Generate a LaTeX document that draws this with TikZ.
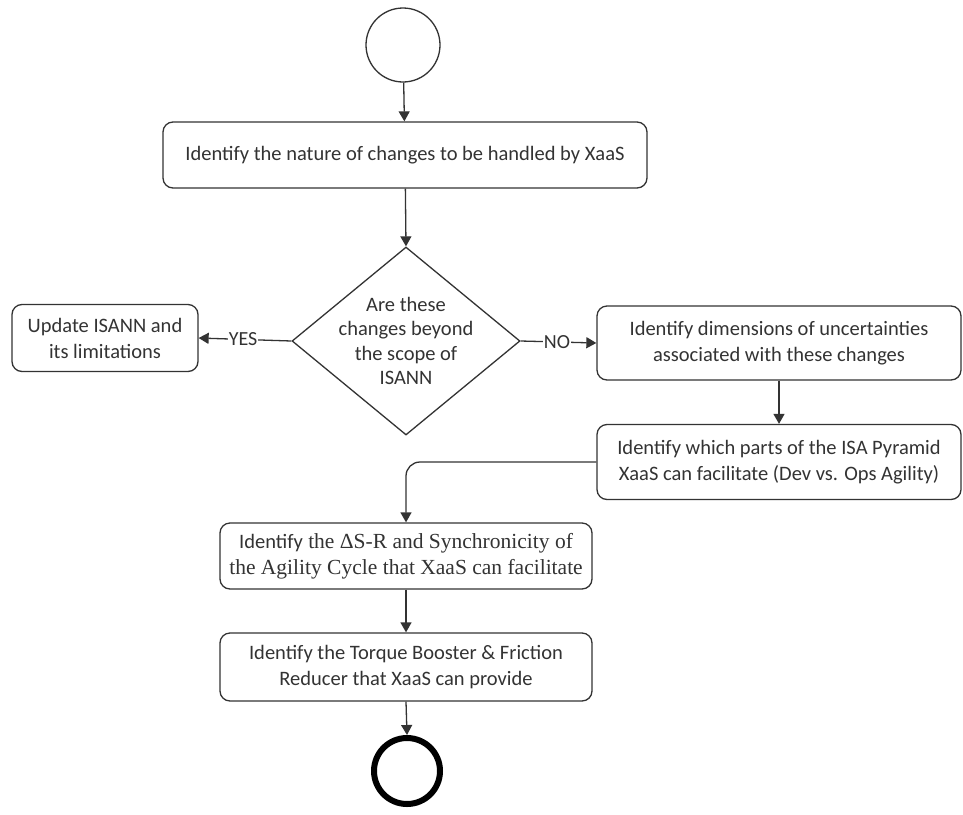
\documentclass[tikz,border=0pt]{standalone}
\usepackage{fontspec}
\setmainfont{Carlito}
\newfontfamily\serifbox{Liberation Serif}
\usetikzlibrary{shapes.geometric,arrows.meta}
\definecolor{ink}{HTML}{333333}
\tikzset{
  flow/.style={draw=ink, line width=1.3pt},
  stepbox/.style={flow, rectangle, rounded corners=10pt, align=center, inner sep=0pt,
    font=\fontsize{20.5}{26}\selectfont, text=ink},
  arr/.style={flow, -{Triangle[length=10pt,width=11pt]}},
  lbl/.style={fill=white, inner sep=1pt, font=\fontsize{20}{22}\selectfont, text=ink},
}
\begin{document}
\begin{tikzpicture}[x=1pt,y=-1pt]
  \useasboundingbox (0,0) rectangle (963,814);
  \fill[white] (0,0) rectangle (963,814);

  % start and end
  \node[flow, circle, minimum size=74pt, inner sep=0pt] (start) at (403,45) {};
  \node[draw=black, line width=6pt, circle, minimum size=66pt, inner sep=0pt] (stop) at (407,771) {};

  % process steps
  \node[stepbox, minimum width=484pt, minimum height=66pt] (nature) at (405,155)
    {Identify the nature of changes to be handled by XaaS};
  \node[flow, diamond, minimum width=228pt, minimum height=188pt, inner sep=0pt] (scope) at (406,341) {};
  \node[align=center, font=\fontsize{20.5}{24.5}\selectfont, text=ink] (scopetxt) at (scope.center)
    {Are these\\changes beyond\\the scope of\\ISANN};
  \node[stepbox, minimum width=186pt, minimum height=67pt] (update) at (105,338)
    {Update ISANN and\\its limitations};
  \node[stepbox, minimum width=364pt, minimum height=74pt] (dims) at (779,343)
    {Identify dimensions of uncertainties\\associated with these changes};
  \node[stepbox, minimum width=364pt, minimum height=75pt] (parts) at (779,462)
    {Identify which parts of the ISA Pyramid\\XaaS can facilitate (Dev vs. Ops Agility)};
  \node[stepbox, minimum width=372pt, minimum height=66pt, font=\serifbox\fontsize{21.5}{26}\selectfont] (cycle) at (406,556)
    {{\rmfamily\fontsize{20.5}{26}\selectfont Identify} the ΔS-R and Synchronicity of\\the Agility Cycle that XaaS can facilitate};
  \node[stepbox, minimum width=372pt, minimum height=68pt] (torque) at (406,667)
    {Identify the Torque Booster \& Friction\\Reducer that XaaS can provide};

  % connectors
  \draw[arr] (start) -- (nature);
  \draw[arr] (nature) -- (scope.north);
  \draw[arr] (scope.west) -- node[lbl, pos=0.52] {YES} (update.east);
  \draw[arr] (scope.east) -- node[lbl, pos=0.48] {NO} (dims.west);
  \draw[arr] (dims) -- (parts);
  \draw[arr, rounded corners=14pt] (parts.west) -| (cycle.north);
  \draw[arr] (cycle) -- (torque);
  \draw[arr] (torque.south) -- (stop.north);
\end{tikzpicture}
\end{document}
